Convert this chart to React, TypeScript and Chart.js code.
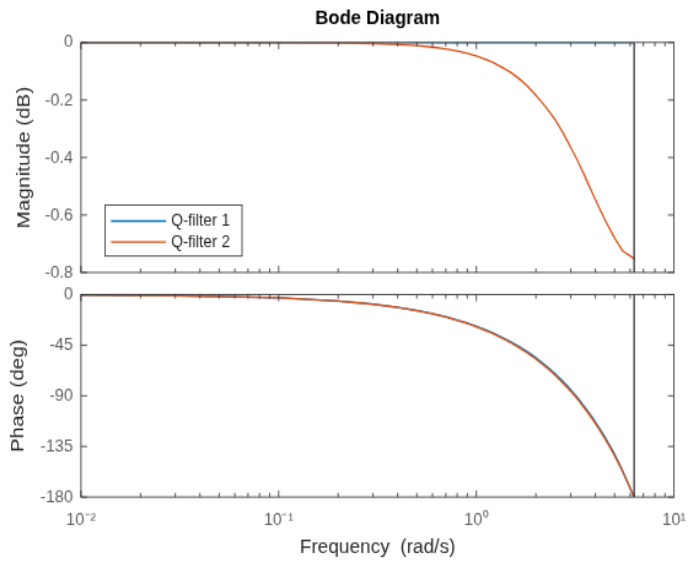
import React, { useEffect, useRef } from 'react';
import { Chart, registerables } from 'chart.js';

Chart.register(...registerables);

// ---------- data ----------
const freq = [0.01, 0.03, 0.1, 0.2, 0.3, 0.4, 0.5, 0.6, 0.7, 0.8, 0.9, 1.0, 1.1, 1.2, 1.35, 1.5, 1.65, 1.8, 1.95, 2.1, 2.3, 2.5, 2.7, 2.9, 3.1, 3.3, 3.5, 3.7, 3.9, 4.1, 4.3, 4.5, 4.7, 4.9, 5.05, 5.2, 5.35, 5.5, 6.2832];
const magQ1 = [0, 0, 0, 0, 0, 0, 0, 0, 0, 0, 0, 0, 0, 0, 0, 0, 0, 0, 0, 0, 0, 0, 0, 0, 0, 0, 0, 0, 0, 0, 0, 0, 0, 0, 0, 0, 0, 0, 0];
const magQ2 = [0, 0, -0.0005, -0.0018, -0.004, -0.007, -0.011, -0.016, -0.022, -0.029, -0.037, -0.047, -0.057, -0.068, -0.086, -0.105, -0.127, -0.150, -0.175, -0.200, -0.234, -0.268, -0.306, -0.345, -0.383, -0.420, -0.458, -0.495, -0.529, -0.562, -0.592, -0.620, -0.645, -0.668, -0.684, -0.698, -0.712, -0.725, -0.752];
const phaseQ1 = [-0.3, -0.9, -2.9, -5.7, -8.5, -11.4, -14.2, -17.0, -19.8, -22.6, -25.4, -28.2, -31.0, -33.8, -38.0, -42.2, -46.4, -50.6, -54.8, -59.0, -64.6, -70.3, -76.0, -81.7, -87.4, -93.1, -98.9, -104.6, -110.3, -116.1, -121.8, -127.6, -133.3, -139.1, -143.5, -147.9, -152.3, -156.7, -180];
const phaseQ2 = [-0.3, -0.9, -2.9, -5.7, -8.6, -11.5, -14.3, -17.2, -20.1, -22.9, -25.8, -28.6, -31.5, -34.4, -38.7, -43.0, -47.3, -51.6, -55.9, -60.2, -65.9, -71.6, -77.4, -83.1, -88.8, -94.5, -100.3, -106.0, -111.7, -117.5, -123.2, -128.9, -134.6, -140.4, -144.7, -149.0, -153.3, -157.6, -180];
const nyquistFreq = 6.2832;
const seriesLabels = ['Q-filter 1', 'Q-filter 2'];
const magTicks = [0, -0.2, -0.4, -0.6, -0.8];
const phaseTicks = [0, -45, -90, -135, -180];
const xTickValues = [0.01, 0.1, 1, 10];
const xTickLabels = ['10\u207B\u00B2', '10\u207B\u00B9', '10\u2070', '10\u00B9'];

// ---------- styles ----------
// The figure is drawn on a 560x420 canvas and displayed stretched to 688x561.
const W = 560;
const H = 420;
const FONT = "'Liberation Sans', Arial, Helvetica, sans-serif";
const BLUE = '#0072BD';
const ORANGE = '#D95319';
const AXIS = '#333333';
const TICK_TEXT = '#5e5e5e';
const LABEL_TEXT = '#262626';
const AX_LEFT = 65.9;
const AX_RIGHT_PAD = 11.4;

Chart.defaults.font.family = FONT;

const framePlugin = {
  id: 'frame',
  afterDatasetsDraw(chart: any) {
    const { ctx, chartArea: a, scales } = chart;
    const xs = scales.x;
    const ys = scales.y;
    const L = a.left;
    const R = a.right;
    const T = a.top;
    const B = a.bottom;
    ctx.save();
    ctx.strokeStyle = AXIS;
    ctx.lineWidth = 0.85;
    ctx.strokeRect(L, T, R - L, B - T);
    ctx.beginPath();
    [0.01, 0.1, 1].forEach((d) => {
      for (let m = 1; m <= 9; m++) {
        const px = xs.getPixelForValue(d * m);
        const len = m === 1 ? 5 : 3;
        ctx.moveTo(px, T);
        ctx.lineTo(px, T + len);
        ctx.moveTo(px, B);
        ctx.lineTo(px, B - len);
      }
    });
    ys.ticks.forEach((t: any) => {
      const py = ys.getPixelForValue(t.value);
      ctx.moveTo(L, py);
      ctx.lineTo(L + 5, py);
      ctx.moveTo(R, py);
      ctx.lineTo(R - 5, py);
    });
    ctx.stroke();
    ctx.restore();
  },
};

const legendPlugin = {
  id: 'boxLegend',
  afterDraw(chart: any, _args: any, opts: any) {
    if (!opts || !opts.show) return;
    const { ctx, chartArea: a } = chart;
    const items = chart.data.datasets.filter((d: any) => d.label);
    const w = 111.5;
    const h = 38.2;
    const x0 = a.left + 19.6;
    const y0 = a.bottom - 12.3 - h;
    ctx.save();
    ctx.fillStyle = '#ffffff';
    ctx.fillRect(x0, y0, w, h);
    ctx.strokeStyle = AXIS;
    ctx.lineWidth = 0.85;
    ctx.strokeRect(x0, y0, w, h);
    ctx.font = `12.5px ${FONT}`;
    ctx.textBaseline = 'middle';
    ctx.textAlign = 'left';
    items.forEach((d: any, i: number) => {
      const y = y0 + 12 + i * 15.7;
      ctx.strokeStyle = d.borderColor;
      ctx.lineWidth = 1.3;
      ctx.beginPath();
      ctx.moveTo(x0 + 4.8, y);
      ctx.lineTo(x0 + 49.6, y);
      ctx.stroke();
      ctx.fillStyle = LABEL_TEXT;
      ctx.fillText(d.label, x0 + 53.7, y + 0.5);
    });
    ctx.restore();
  },
};

function pts(ys: number[]) {
  return freq.map((f, i) => ({ x: f, y: ys[i] }));
}

function makeConfig(kind: 'mag' | 'phase'): any {
  const isMag = kind === 'mag';
  const y1 = isMag ? magQ1 : phaseQ1;
  const y2 = isMag ? magQ2 : phaseQ2;
  const yTicks = isMag ? magTicks : phaseTicks;
  const yMin = yTicks[yTicks.length - 1];
  const yMax = yTicks[0];
  return {
    type: 'line',
    data: {
      datasets: [
        { label: seriesLabels[0], data: pts(y1), borderColor: BLUE, borderWidth: 1.3, pointRadius: 0, tension: 0, order: 3 },
        { label: seriesLabels[1], data: pts(y2), borderColor: ORANGE, borderWidth: 1.3, pointRadius: 0, tension: 0, order: 2 },
        {
          label: '',
          data: [{ x: nyquistFreq, y: yMax }, { x: nyquistFreq, y: yMin }],
          borderColor: '#111111', borderWidth: 1.1, pointRadius: 0, order: 1,
        },
      ],
    },
    options: {
      responsive: false,
      maintainAspectRatio: false,
      devicePixelRatio: 1,
      animation: false,
      events: [],
      layout: isMag
        ? { padding: { left: 0, right: AX_RIGHT_PAD, top: 0, bottom: H - 204.0 } }
        : { padding: { left: 0, right: AX_RIGHT_PAD, top: 220.5, bottom: 0 } },
      plugins: {
        legend: { display: false },
        tooltip: { enabled: false },
        title: isMag
          ? { display: true, fullSize: false, text: 'Bode Diagram', color: '#000', font: { size: 15, weight: 'bold', lineHeight: 1.2 }, padding: { top: 4.5, bottom: 9.3 } }
          : { display: false },
        boxLegend: { show: isMag },
      },
      scales: {
        x: {
          type: 'logarithmic',
          min: xTickValues[0],
          max: xTickValues[xTickValues.length - 1],
          grid: { display: false, drawTicks: false },
          border: { display: false },
          afterBuildTicks: (s: any) => { s.ticks = xTickValues.map((v) => ({ value: v })); },
          ticks: {
            display: !isMag,
            color: TICK_TEXT,
            font: { size: 13.3, lineHeight: 1.2 },
            padding: 8.9,
            maxRotation: 0,
            autoSkip: false,
            callback: (_v: any, i: number) => xTickLabels[i],
          },
          title: isMag
            ? { display: false }
            : { display: true, text: 'Frequency  (rad/s)', color: LABEL_TEXT, font: { size: 15.5, lineHeight: 1.2 }, padding: { top: 0, bottom: 1.2 } },
          afterFit: (s: any) => {
            s.height = isMag ? 0 : H - 372.1;
            s.paddingLeft = 0;
            s.paddingRight = 0;
          },
        },
        y: {
          min: yMin,
          max: yMax,
          grid: { display: false, drawTicks: false },
          border: { display: false },
          afterBuildTicks: (s: any) => { s.ticks = yTicks.map((v) => ({ value: v })); },
          ticks: {
            color: TICK_TEXT,
            font: { size: 13.3 },
            padding: 6.5,
            callback: (v: any) => String(Math.round(Number(v) * 10) / 10),
          },
          title: {
            display: true,
            text: isMag ? 'Magnitude (dB)' : 'Phase (deg)',
            color: LABEL_TEXT,
            font: { size: 15.5, lineHeight: 1.2 },
            padding: { top: isMag ? 10.2 : 5.3, bottom: 0 },
          },
          afterFit: (s: any) => {
            s.width = AX_LEFT;
            s.paddingTop = 0;
            s.paddingBottom = 0;
          },
        },
      },
    },
    plugins: [framePlugin, legendPlugin],
  };
}

function ChartCanvas({ kind }: { kind: 'mag' | 'phase' }) {
  const ref = useRef<HTMLCanvasElement | null>(null);
  useEffect(() => {
    if (!ref.current) return;
    const chart = new Chart(ref.current, makeConfig(kind));
    return () => chart.destroy();
  }, [kind]);
  return (
    <canvas
      ref={ref}
      width={W}
      height={H}
      style={{ position: 'absolute', left: 0, top: 0, width: 688, height: 561, display: 'block' }}
    />
  );
}

export default function App() {
  return (
    <div style={{ position: 'fixed', left: 0, top: 0, width: 688, height: 561, background: '#ffffff', overflow: 'hidden' }}>
      <ChartCanvas kind="mag" />
      <ChartCanvas kind="phase" />
    </div>
  );
}
